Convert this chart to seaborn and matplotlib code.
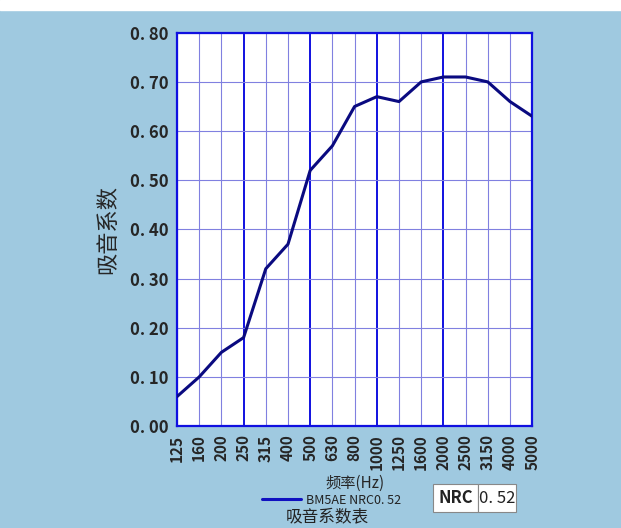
import matplotlib
matplotlib.use("Agg")
import matplotlib.pyplot as plt
import seaborn as sns
import pandas as pd

freqs = ["125", "160", "200", "250", "315", "400", "500", "630", "800",
         "1000", "1250", "1600", "2000", "2500", "3150", "4000", "5000"]
absorb = [0.06, 0.10, 0.15, 0.18, 0.32, 0.37, 0.52, 0.57, 0.65,
          0.67, 0.66, 0.70, 0.71, 0.71, 0.70, 0.66, 0.63]
yticks = [0.0, 0.1, 0.2, 0.3, 0.4, 0.5, 0.6, 0.7, 0.8]
octave_marks = ["250", "500", "1000", "2000"]
series_name = "BM5AE NRC0.52"
nrc_value = "0.52"

sns.set_style("white")
plt.rcParams["font.family"] = ["Noto Sans CJK SC", "DejaVu Sans"]

bg = "#9fc9e0"
fig = plt.figure(figsize=(6.21, 5.28), dpi=100, facecolor=bg)
# white strip at top of the image
fig.patches.append(plt.Rectangle((0, 0.981), 1, 0.019, transform=fig.transFigure,
                                 color="white", zorder=0))
ax = fig.add_axes([0.285, 0.193, 0.572, 0.745])
ax.set_facecolor("white")

df = pd.DataFrame({"freq": freqs, "a": absorb})
df["i"] = range(len(freqs))

# grid lines
for i, f in enumerate(freqs):
    if f in octave_marks:
        ax.axvline(i, color="#1010e0", lw=1.4, zorder=1)
    else:
        ax.axvline(i, color="#8080e0", lw=0.8, zorder=1)
for y in yticks:
    ax.axhline(y, color="#8080e0", lw=0.8, zorder=1)

sns.lineplot(data=df, x="i", y="a", ax=ax, color="#0a0a80", lw=2.2, zorder=3,
             label=series_name, legend=False)

ax.set_xlim(0, len(freqs) - 1)
ax.set_ylim(0, 0.8)
ax.set_xticks(range(len(freqs)))
ax.set_xticklabels(freqs, rotation=90, fontsize=11, fontweight="bold")
ax.set_yticks(yticks)
ax.set_yticklabels([f"{v:.2f}".replace(".", ". ") for v in yticks],
                   fontsize=12, fontweight="bold")
ax.tick_params(length=0, pad=6)
for s in ax.spines.values():
    s.set_color("#1010e0")
    s.set_linewidth(1.6)

ax.set_xlabel("频率(Hz)", fontsize=11, labelpad=3)
ax.set_ylabel("吸音系数", fontsize=16, labelpad=8)

handle = plt.Line2D([], [], color="#1010c0", lw=2.2)
leg = fig.legend([handle], [series_name.replace(".", ". ")], loc="center left",
                 bbox_to_anchor=(0.422, 0.053), frameon=False, fontsize=9,
                 handlelength=3.1, handletextpad=0.4, borderpad=0,
                 borderaxespad=0)
for t in leg.get_texts():
    t.set_color("#222222")

# NRC boxes
box_y, box_h = 0.030, 0.053
fig.patches.append(plt.Rectangle((0.697, box_y), 0.073, box_h, transform=fig.transFigure,
                                 fc="white", ec="#888888", lw=0.8))
fig.patches.append(plt.Rectangle((0.770, box_y), 0.061, box_h, transform=fig.transFigure,
                                 fc="white", ec="#888888", lw=0.8))
fig.text(0.7335, box_y + box_h / 2, "NRC", ha="center", va="center", fontsize=12,
         fontweight="bold", color="#222222")
fig.text(0.8005, box_y + box_h / 2, nrc_value.replace(".", ". "), ha="center",
         va="center", fontsize=12, color="#222222")
fig.text(0.527, 0.021, "吸音系数表", ha="center", va="center", fontsize=12,
         color="#222222")

fig.savefig("out.png", dpi=100, facecolor=bg)
